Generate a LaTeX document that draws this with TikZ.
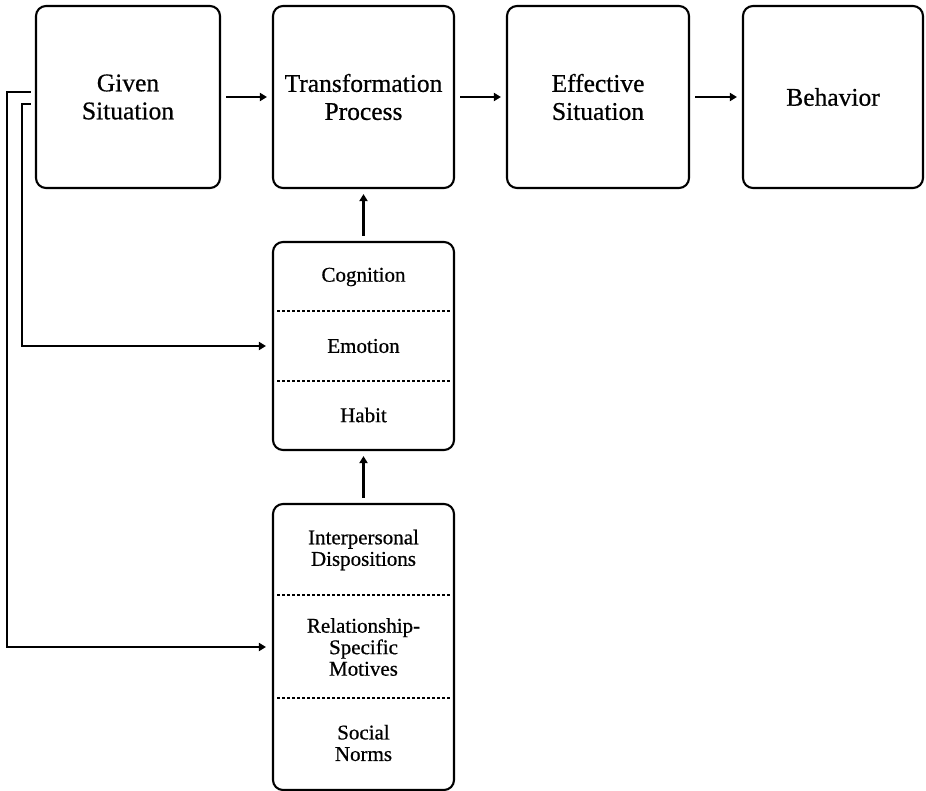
\documentclass[tikz,border=0pt]{standalone}
\usepackage{fontspec}
\setmainfont[FakeBold=0.6]{Liberation Serif}
\usetikzlibrary{arrows.meta}
\begin{document}
\begin{tikzpicture}[x=1pt,y=-1pt,
  box/.style={draw,line width=2.1pt,rounded corners=10pt,inner sep=0pt,align=center},
  big/.style={box,minimum width=182pt,minimum height=182pt,font=\fontsize{25.5}{28}\selectfont},
  lbl/.style={align=center,inner sep=0pt,font=\fontsize{21}{21.5}\selectfont},
  arr/.style={line width=2.2pt,-{Triangle[length=7pt,width=8pt]},shorten <=5pt,shorten >=5pt},
  sep/.style={line width=1.9pt,dash pattern=on 3pt off 2pt}]
\useasboundingbox (0,0) rectangle (926,791);

% top row
\node[big,minimum width=184pt] (given) at (128,97) {Given\\Situation};
\node[big,minimum width=181pt] (trans) at (363.5,97) {Transformation\\Process};
\node[big] (eff) at (598,97) {Effective\\Situation};
\node[big,minimum width=180pt] (beh) at (833,97) {Behavior};

% middle box
\node[box,minimum width=181pt,minimum height=208pt] (mid) at (363.5,346) {};
\node[lbl] (cog) at (363.5,277) {Cognition};
\node[lbl] (emo) at (363.5,346) {Emotion};
\node[lbl] (hab) at (363.5,415) {Habit};
\draw[sep] (277,311) -- (450,311);
\draw[sep] (277,381) -- (450,381);

% bottom box
\node[box,minimum width=181pt,minimum height=286pt] (bot) at (363.5,647) {};
\node[lbl] (ipd) at (363.5,550) {Interpersonal\\Dispositions};
\node[lbl] (rsm) at (363.5,647) {Relationship-\\Specific\\Motives};
\node[lbl] (soc) at (363.5,743) {Social\\Norms};
\draw[sep] (277,595) -- (450,595);
\draw[sep] (277,698) -- (450,698);

% connectors
\draw[arr] (given) -- (trans);
\draw[arr] (trans) -- (eff);
\draw[arr] (eff) -- (beh);
\draw[arr] (mid) -- (trans);
\draw[arr] (bot) -- (mid);
\draw[arr,shorten <=4pt,shorten >=6pt] ([yshift=-7pt]given.west) -- ++(-13,0) |- (mid.west);
\draw[arr,shorten <=4pt,shorten >=6pt] ([yshift=5pt]given.west) -- ++(-28,0) |- (bot.west);
\end{tikzpicture}
\end{document}
